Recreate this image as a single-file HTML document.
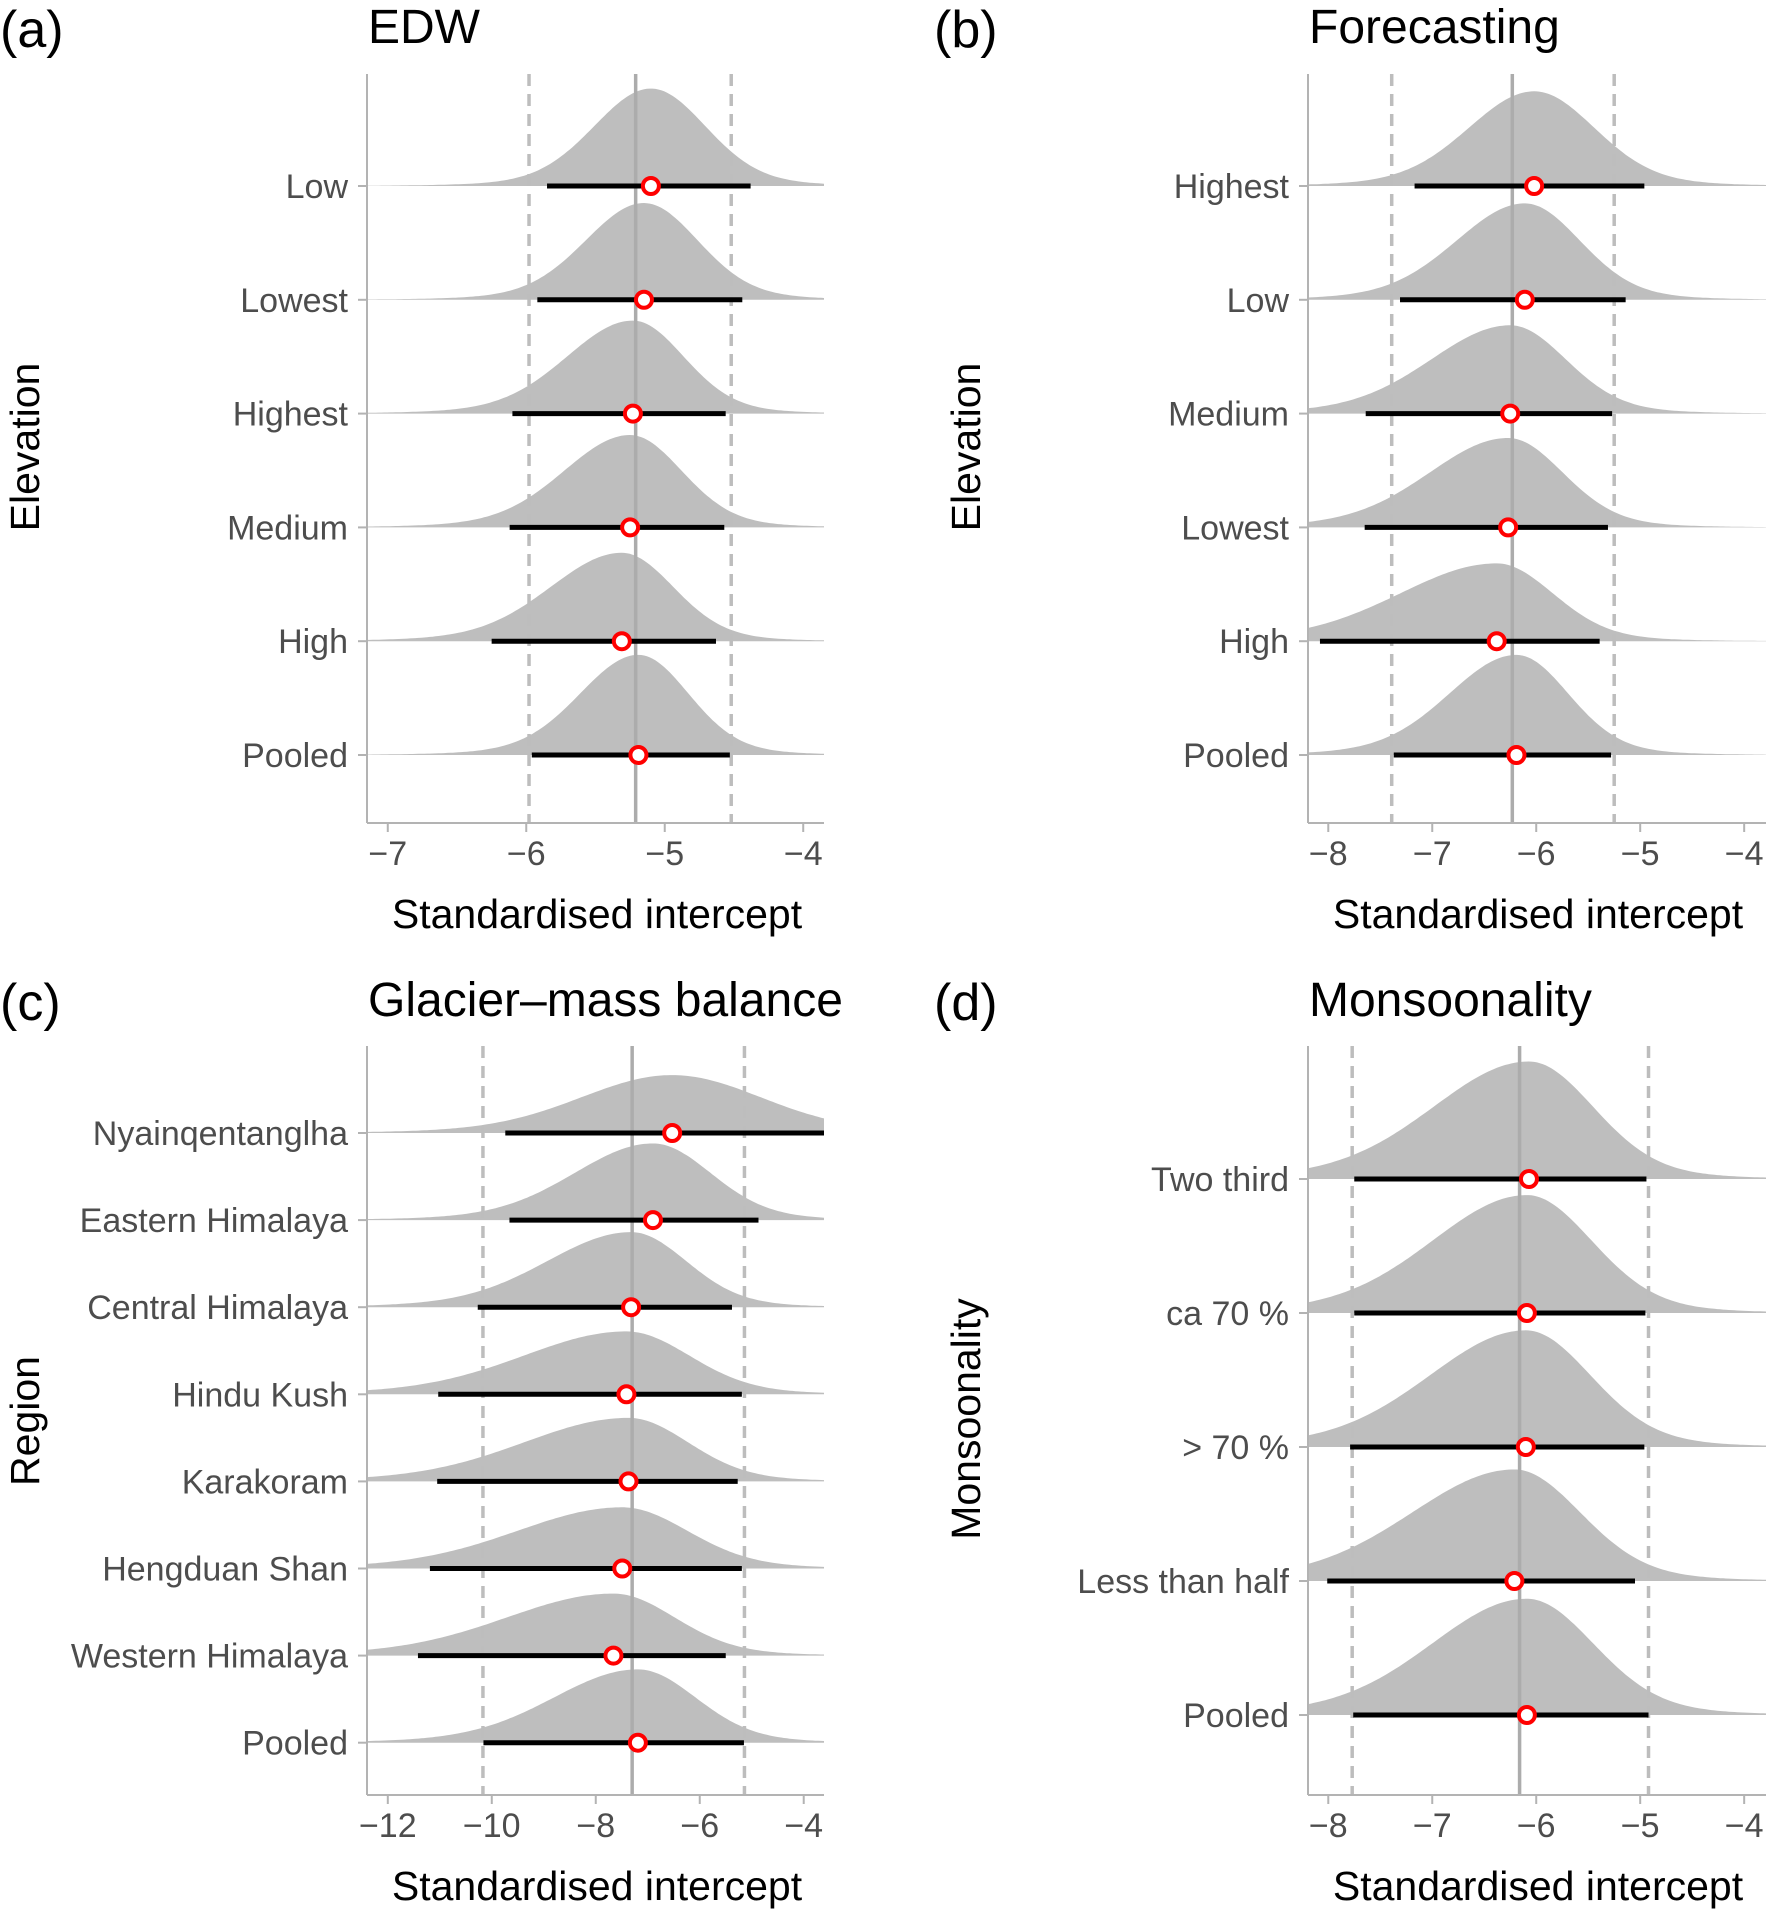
<!DOCTYPE html>
<html><head><meta charset="utf-8">
<style>
html,body{margin:0;padding:0;background:#fff;}
svg{display:block;font-family:"Liberation Sans",Arial,sans-serif;}
</style></head>
<body>
<svg id="fig" width="1766" height="1911" viewBox="0 0 1766 1911" xmlns="http://www.w3.org/2000/svg"></svg>
<script>
// ---- Panel (a) EDW ----
const aCats = ["Low","Lowest","Highest","Medium","High","Pooled"];
const aPoint = [-5.10,-5.15,-5.23,-5.25,-5.31,-5.19];
const aLo = [-5.85,-5.92,-6.10,-6.12,-6.25,-5.96];
const aHi = [-4.38,-4.44,-4.56,-4.57,-4.63,-4.53];
const aRef = [-5.21,-5.98,-4.52];
const aTicks = [-7,-6,-5,-4];
// ---- Panel (b) Forecasting ----
const bCats = ["Highest","Low","Medium","Lowest","High","Pooled"];
const bPoint = [-6.02,-6.11,-6.25,-6.27,-6.38,-6.19];
const bLo = [-7.17,-7.31,-7.64,-7.65,-8.08,-7.37];
const bHi = [-4.96,-5.14,-5.27,-5.31,-5.39,-5.28];
const bRef = [-6.23,-7.39,-5.25];
const bTicks = [-8,-7,-6,-5,-4];
// ---- Panel (c) Glacier-mass balance ----
const cCats = ["Nyainqentanglha","Eastern Himalaya","Central Himalaya","Hindu Kush","Karakoram","Hengduan Shan","Western Himalaya","Pooled"];
const cPoint = [-6.53,-6.90,-7.32,-7.41,-7.37,-7.49,-7.66,-7.19];
const cLo = [-9.74,-9.66,-10.27,-11.03,-11.05,-11.19,-11.42,-10.16];
const cHi = [-3.40,-4.87,-5.38,-5.19,-5.27,-5.19,-5.50,-5.15];
const cRef = [-7.30,-10.17,-5.14];
const cTicks = [-12,-10,-8,-6,-4];
// ---- Panel (d) Monsoonality ----
const dCats = ["Two third","ca  70 %","> 70 %","Less than half","Pooled"];
const dPoint = [-6.07,-6.09,-6.10,-6.21,-6.09];
const dLo = [-7.75,-7.75,-7.79,-8.01,-7.76];
const dHi = [-4.94,-4.95,-4.96,-5.05,-4.92];
const dRef = [-6.16,-7.77,-4.92];
const dTicks = [-8,-7,-6,-5,-4];

const NS = "http://www.w3.org/2000/svg";
const svg = document.getElementById('fig');
function mk(tag, attrs, parent){
  const e = document.createElementNS(NS, tag);
  for (const k in attrs) e.setAttribute(k, attrs[k]);
  (parent||svg).appendChild(e);
  return e;
}

function panel(o){
  const g = mk('g', {});
  
  
  const x = v => o.x0 + (v - o.dmin) / (o.dmax - o.dmin) * (o.x1 - o.x0);
  const n = o.cats.length;
  const y = i => o.rowY0 + i * o.rowStep;
  const cid = 'clip-' + o.name;
  const defs = mk('defs', {}, g);
  const cp = mk('clipPath', {id: cid}, defs);
  mk('rect', {x: o.x0, y: o.yTop - 40, width: o.x1 - o.x0, height: o.yBot - o.yTop + 40}, cp);
  const plot = mk('g', {'clip-path': 'url(#' + cid + ')'}, g);
  const widths = o.cats.map((c,i) => (o.hi[i] - o.lo[i]));
  const minW = Math.min(...widths);
  for (let i = 0; i < n; i++) {
    const sdL = (o.point[i] - o.lo[i]) / 1.96, sdR = (o.hi[i] - o.point[i]) / 1.96;
    const peak = 0.88 * o.rowStep * (minW / widths[i]);
    let d = '';
    const steps = 160;
    for (let s = 0; s <= steps; s++) {
      const v = o.dmin + (o.dmax - o.dmin) * s / steps;
      const sd = (v < o.point[i] ? sdL : sdR) * 1.05;
      const z = (v - o.point[i]) / sd;
      const h = peak * (0.93 * Math.exp(-0.5 * z * z) + 0.07 * Math.exp(-0.5 * z * z / 4));
      d += (s ? 'L' : 'M') + x(v).toFixed(1) + ',' + (y(i) - h).toFixed(1);
    }
    d += 'L' + x(o.dmax) + ',' + y(i) + 'L' + x(o.dmin) + ',' + y(i) + 'Z';
    const p = mk('path', {d: d, fill: '#bebebe'}, plot);
    
    
  }
  o.ref.forEach((r, k) => {
    const l = mk('line', {x1: x(r), x2: x(r), y1: o.yTop, y2: o.yBot, stroke: k ? '#bdbdbd' : '#acacac',
      'stroke-width': k ? 3.5 : 3.5, 'stroke-dasharray': k ? '12,8' : 'none'}, plot);
    
    
  });
  for (let i = 0; i < n; i++) {
    const l = mk('line', {x1: x(o.lo[i]), x2: x(Math.min(o.hi[i], o.dmax)), y1: y(i), y2: y(i), stroke: '#000', 'stroke-width': 5}, plot);
    
    
    const c = mk('circle', {cx: x(o.point[i]), cy: y(i), r: 8, fill: '#fff', stroke: '#ff0000', 'stroke-width': 4}, plot);
    
    
    const t = mk('text', {x: o.x0 - 19, y: y(i) + 12, 'text-anchor': 'end', 'font-size': 34, fill: '#4d4d4d'}, g);
    t.textContent = o.cats[i];
    
    
    mk('line', {x1: o.x0 - 9, x2: o.x0, y1: y(i), y2: y(i), stroke: '#b3b3b3', 'stroke-width': 2}, g);
  }
  const ay = mk('line', {x1: o.x0, x2: o.x0, y1: o.yTop, y2: o.yBot, stroke: '#b3b3b3', 'stroke-width': 2}, g);
  
  
  const ax = mk('line', {x1: o.x0, x2: o.x1, y1: o.yBot, y2: o.yBot, stroke: '#b3b3b3', 'stroke-width': 2}, g);
  
  
  o.ticks.forEach(t => {
    mk('line', {x1: x(t), x2: x(t), y1: o.yBot, y2: o.yBot + 9, stroke: '#b3b3b3', 'stroke-width': 2}, g);
    const tl = mk('text', {x: x(t), y: o.yBot + 42, 'text-anchor': 'middle', 'font-size': 34, fill: '#4d4d4d'}, g);
    tl.textContent = '\u2212' + Math.abs(t);
    
    
  });
  const xt = mk('text', {x: o.x0 + 230, y: o.yBot + 105, 'text-anchor': 'middle', 'font-size': 41, fill: '#000'}, g);
  xt.textContent = 'Standardised intercept';
  
  
  const yt = mk('text', {x: 0, y: 0, 'text-anchor': 'middle', 'font-size': 41, fill: '#000',
    transform: 'translate(' + (o.ytx + 14) + ',' + o.yty + ') rotate(-90)'}, g);
  yt.textContent = o.ytitle;
  
  
  const ti = mk('text', {x: o.titleX, y: o.titleY, 'font-size': 48, fill: '#000'}, g);
  ti.textContent = o.title;
  
  
  const pl = mk('text', {x: o.labX, y: o.titleY + 4, 'font-size': 52, fill: '#000'}, g);
  pl.textContent = o.lab;
  
  
}

panel({name:'panel-a-edw', cats:aCats, point:aPoint, lo:aLo, hi:aHi, ref:aRef, ticks:aTicks,
  dmin:-7.15, dmax:-3.85, x0:367, x1:824, yTop:74, yBot:823, rowY0:186, rowStep:113.8,
  title:'EDW', titleX:368, titleY:43, lab:'(a)', labX:0, ytitle:'Elevation', ytx:25, yty:447});
panel({name:'panel-b-forecasting', cats:bCats, point:bPoint, lo:bLo, hi:bHi, ref:bRef, ticks:bTicks,
  dmin:-8.195, dmax:-3.79, x0:1308, x1:1766, yTop:74, yBot:823, rowY0:186, rowStep:113.8,
  title:'Forecasting', titleX:1309, titleY:43, lab:'(b)', labX:934, ytitle:'Elevation', ytx:966, yty:447});
panel({name:'panel-c-glacier', cats:cCats, point:cPoint, lo:cLo, hi:cHi, ref:cRef, ticks:cTicks,
  dmin:-12.40, dmax:-3.61, x0:367, x1:824, yTop:1046, yBot:1795, rowY0:1133, rowStep:87.1,
  title:'Glacier\u2013mass balance', titleX:368, titleY:1016, lab:'(c)', labX:0, ytitle:'Region', ytx:25, yty:1421});
panel({name:'panel-d-monsoonality', cats:dCats, point:dPoint, lo:dLo, hi:dHi, ref:dRef, ticks:dTicks,
  dmin:-8.195, dmax:-3.79, x0:1308, x1:1766, yTop:1046, yBot:1795, rowY0:1179, rowStep:134,
  title:'Monsoonality', titleX:1309, titleY:1016, lab:'(d)', labX:934, ytitle:'Monsoonality', ytx:966, yty:1419});
</script>
</body></html>
